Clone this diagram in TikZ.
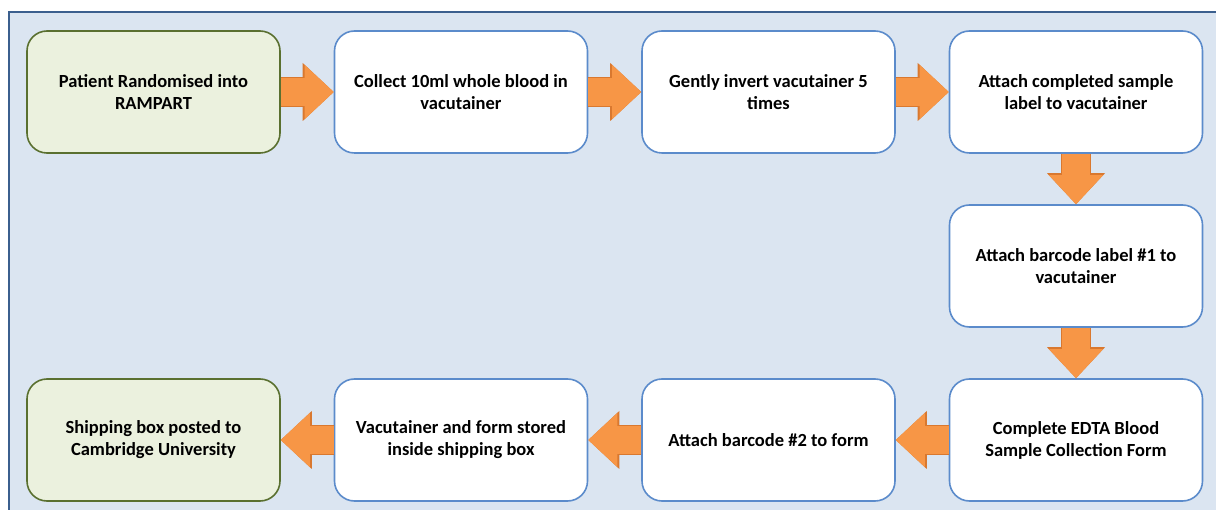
\documentclass[tikz,border=0pt]{standalone}
\usepackage{fontspec}
\setmainfont{Carlito}
\usepackage{tikz}
\usetikzlibrary{positioning, arrows.meta}
\definecolor{panelfill}{HTML}{DBE5F1}
\definecolor{paneldraw}{HTML}{3B5F8E}
\definecolor{stepdraw}{HTML}{5B8BCB}
\definecolor{endfill}{HTML}{EBF1DE}
\definecolor{enddraw}{HTML}{5A7030}
\definecolor{arrfill}{HTML}{F79646}
\definecolor{arrline}{HTML}{D9782F}
\tikzset{
  stepbox/.style={draw=stepdraw, fill=white, rounded corners=20pt,
                  line width=1.6pt, minimum width=253pt, minimum height=122pt,
                  align=center, font=\bfseries\fontsize{18.5}{22}\selectfont},
  endbox/.style={stepbox, draw=enddraw, fill=endfill},
  flowarr/.style={draw=arrfill, line width=28pt,
                  -{Triangle[width=54pt, length=29pt, line width=0pt]},
                  preaction={draw=arrline, line width=30pt,
                  -{Triangle[width=58pt, length=31pt, line width=0pt]}}},
}

\begin{document}
\begin{tikzpicture}[node distance=50.4pt and 52.9pt]
  \useasboundingbox (0pt,0pt) rectangle (1216pt,-510pt);
  \fill[panelfill] (9pt,-12pt) rectangle (1230pt,-530pt);
  \draw[paneldraw, line width=2.4pt] (9pt,-530pt) -- (9pt,-12pt) -- (1230pt,-12pt);

  % --- top row ------------------------------------------------------
  \node[endbox] (rand) at (153.5pt,-92pt) {Patient Randomised into\\RAMPART};
  \node[stepbox, right=of rand]  (blood) {Collect 10ml whole blood in\\vacutainer};
  \node[stepbox, right=of blood] (invert) {Gently invert vacutainer 5\\times};
  \node[stepbox, right=of invert] (label) {Attach completed sample\\label to vacutainer};

  % --- right column -------------------------------------------------
  \node[stepbox, below=of label] (barone) {Attach barcode label \#1 to\\vacutainer};
  \node[stepbox, below=of barone] (form) {Complete EDTA Blood\\Sample Collection Form};

  % --- bottom row ---------------------------------------------------
  \node[stepbox, left=of form]   (bartwo) {Attach barcode \#2 to form};
  \node[stepbox, left=of bartwo] (store) {Vacutainer and form stored\\inside shipping box};
  \node[endbox, left=of store]   (post) {Shipping box posted to\\Cambridge University};

  \draw[flowarr] (rand) -- (blood);
  \draw[flowarr] (blood) -- (invert);
  \draw[flowarr] (invert) -- (label);
  \draw[flowarr] (label) -- (barone);
  \draw[flowarr] (barone) -- (form);
  \draw[flowarr] (form) -- (bartwo);
  \draw[flowarr] (bartwo) -- (store);
  \draw[flowarr] (store) -- (post);

\end{tikzpicture}
\end{document}
